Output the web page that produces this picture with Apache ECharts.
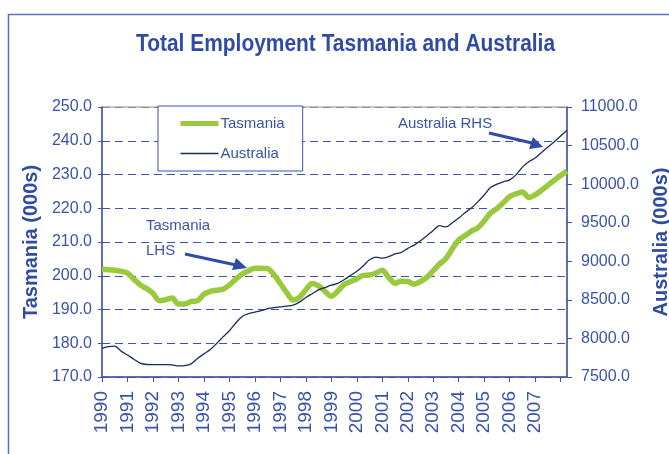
<!DOCTYPE html>
<html>
<head>
<meta charset="utf-8">
<script src="https://cdn.jsdelivr.net/npm/echarts@6/dist/echarts.min.js"></script>
<style>
  html, body { margin: 0; padding: 0; background: #fff; }
  #main { width: 669px; height: 454px; }
</style>
</head>
<body>
<div id="main"></div>
<script>
// quarterly data, 1990 Q1 .. 2008 Q2
var years = [1990, 1991, 1992, 1993, 1994, 1995, 1996, 1997, 1998, 1999,
             2000, 2001, 2002, 2003, 2004, 2005, 2006, 2007, 2008];
var quarters = [];
years.forEach(function (y) {
    for (var q = 1; q <= 4; q++) {
        if (y === 2008 && q > 2) break;
        quarters.push(y + ' Q' + q);
    }
});

// Tasmania (000s), left axis
var tasmania = [
    201.9, 201.8, 201.6, 201.3, 200.8, 199.0, 197.3, 196.2,
    194.8, 192.6, 192.9, 193.4, 191.6, 191.6, 192.4, 192.6,
    194.5, 195.4, 195.7, 196.0, 197.3, 199.0, 200.5, 201.5,
    202.2, 202.2, 202.1, 200.3, 197.7, 195.0, 192.8, 193.6,
    195.8, 197.7, 197.0, 195.4, 193.9, 195.4, 197.4, 198.2,
    199.1, 200.1, 200.2, 200.8, 201.6, 199.5, 197.8, 198.4,
    198.3, 197.5, 198.3, 199.5, 201.5, 203.5, 205.1, 208.0,
    210.6, 211.9, 213.2, 214.2, 216.2, 218.6, 219.9, 221.6,
    223.5, 224.3, 224.8, 223.2, 224.0, 225.3, 226.8, 228.3,
    229.7, 231.0
];

// Australia (000s), right axis
var australia = [
    7872, 7895, 7900, 7835, 7785, 7730, 7680, 7662,
    7660, 7660, 7660, 7658, 7645, 7648, 7670, 7740,
    7800, 7855, 7935, 8020, 8100, 8200, 8285, 8320,
    8340, 8360, 8385, 8400, 8410, 8420, 8433, 8470,
    8530, 8580, 8630, 8660, 8690, 8714, 8760, 8815,
    8870, 8940, 9020, 9055, 9040, 9060, 9095, 9115,
    9168, 9210, 9265, 9330, 9400, 9462, 9445, 9500,
    9560, 9630, 9690, 9770, 9860, 9955, 10000, 10030,
    10055, 10120, 10220, 10290, 10340, 10410, 10480, 10550,
    10625, 10700
];

var blue = '#2f4ba3';
var axisBlue = '#3b53a8';
var font = '"Liberation Sans", Arial, sans-serif';

var chart = echarts.init(document.getElementById('main'));

// grid top line grey, the rest of the split lines dashed blue
var leftSplitColors = [axisBlue, axisBlue, axisBlue, axisBlue, axisBlue,
                       axisBlue, axisBlue, axisBlue, '#8c8c8c'];

var option = {
    backgroundColor: '#fff',
    animation: false,
    grid: {
        left: 102,
        right: 102,
        top: 107,
        bottom: 77,
        outerBoundsMode: 'none',
        show: true,
        borderColor: '#8c8c8c',
        borderWidth: 1
    },
    legend: {
        orient: 'vertical',
        left: 158,
        top: 106,
        padding: [10, 18, 10, 20],
        itemGap: 15,
        itemWidth: 38,
        itemHeight: 14,
        itemStyle: { opacity: 0 },   // line only, no symbol
        backgroundColor: '#fff',
        borderColor: axisBlue,
        borderWidth: 1,
        borderRadius: 0,
        textStyle: { color: axisBlue, fontFamily: font, fontSize: 15, padding: [0, 0, 0, -3] },
        data: [
            { name: 'Tasmania', lineStyle: { width: 5 } },
            { name: 'Australia', lineStyle: { width: 1.3 } }
        ]
    },
    xAxis: {
        type: 'category',
        boundaryGap: false,
        data: quarters,
        axisLine: { lineStyle: { color: axisBlue, width: 1.5 } },
        axisTick: {
            length: 5,
            interval: function (idx) { return idx % 4 === 0; },
            lineStyle: { color: axisBlue }
        },
        axisLabel: {
            rotate: 90,
            margin: 14,
            color: axisBlue,
            fontFamily: font,
            fontSize: 19,
            interval: function (idx) { return idx % 4 === 0 && idx < 72; },
            formatter: function (v) { return v.slice(0, 4); }
        },
        splitLine: { show: false }
    },
    yAxis: [{
        type: 'value',
        name: 'Tasmania (000s)',
        nameLocation: 'middle',
        nameGap: 61,
        nameTextStyle: { color: blue, fontFamily: font, fontWeight: 'bold', fontSize: 20 },
        min: 170,
        max: 250,
        interval: 10,
        axisLine: { show: true, lineStyle: { color: axisBlue, width: 1.5 } },
        axisTick: { show: true, length: 4, lineStyle: { color: axisBlue } },
        axisLabel: {
            color: axisBlue,
            fontFamily: font,
            fontSize: 16,
            margin: 10,
            formatter: function (v) { return v.toFixed(1); }
        },
        splitLine: {
            show: true,
            lineStyle: { color: leftSplitColors, type: [8, 5], width: 1 }
        }
    }, {
        type: 'value',
        name: 'Australia (000s)',
        nameLocation: 'middle',
        nameGap: 84,
        nameRotate: 90,
        nameTextStyle: { color: blue, fontFamily: font, fontWeight: 'bold', fontSize: 20 },
        min: 7500,
        max: 11000,
        interval: 500,
        position: 'right',
        axisLine: { show: true, lineStyle: { color: axisBlue, width: 1.5 } },
        axisTick: { show: true, length: 5, lineStyle: { color: axisBlue } },
        axisLabel: {
            color: axisBlue,
            fontFamily: font,
            fontSize: 16,
            margin: 14,
            formatter: function (v) { return v.toFixed(1); }
        },
        splitLine: { show: false }
    }],
    series: [{
        name: 'Tasmania',
        type: 'line',
        yAxisIndex: 0,
        data: tasmania,
        symbol: 'none',
        smooth: 0.3,
        lineStyle: { color: '#99c93c', width: 5.5 },
        itemStyle: { color: '#99c93c' },
        z: 3
    }, {
        name: 'Australia',
        type: 'line',
        yAxisIndex: 1,
        data: australia,
        symbol: 'none',
        smooth: 0.3,
        lineStyle: { color: '#1c2b5e', width: 1.3 },
        itemStyle: { color: '#1c2b5e' },
        z: 4
    }],
    graphic: [
        // outer chart frame
        {
            type: 'rect', silent: true, z: -1,
            shape: { x: 8.5, y: 14.5, width: 700, height: 500 },
            style: { fill: 'none', stroke: '#5b73bb', lineWidth: 1.5 }
        },
        // chart title
        {
            type: 'text', x: 345.5, y: 45, scaleX: 0.91,
            style: {
                text: 'Total Employment Tasmania and Australia',
                fill: blue, font: 'bold 23px ' + font,
                align: 'center', verticalAlign: 'middle'
            }
        },
        // Tasmania LHS annotation
        { type: 'text', left: 146, top: 218,
          style: { text: 'Tasmania', fill: axisBlue, font: '15px ' + font } },
        { type: 'text', left: 146, top: 243,
          style: { text: 'LHS', fill: axisBlue, font: '15px ' + font } },
        { type: 'line', shape: { x1: 185, y1: 254, x2: 236, y2: 265 },
          style: { stroke: blue, lineWidth: 3 } },
        { type: 'polygon', shape: { points: [[247, 268], [232, 270], [236, 258]] },
          style: { fill: blue } },
        // Australia RHS annotation
        { type: 'text', left: 398, top: 116,
          style: { text: 'Australia RHS', fill: axisBlue, font: '15px ' + font } },
        { type: 'line', shape: { x1: 489, y1: 133, x2: 532, y2: 143 },
          style: { stroke: blue, lineWidth: 3 } },
        { type: 'polygon', shape: { points: [[543, 147], [529, 149], [533, 137]] },
          style: { fill: blue } }
    ]
};

chart.setOption(option);
</script>
</body>
</html>
